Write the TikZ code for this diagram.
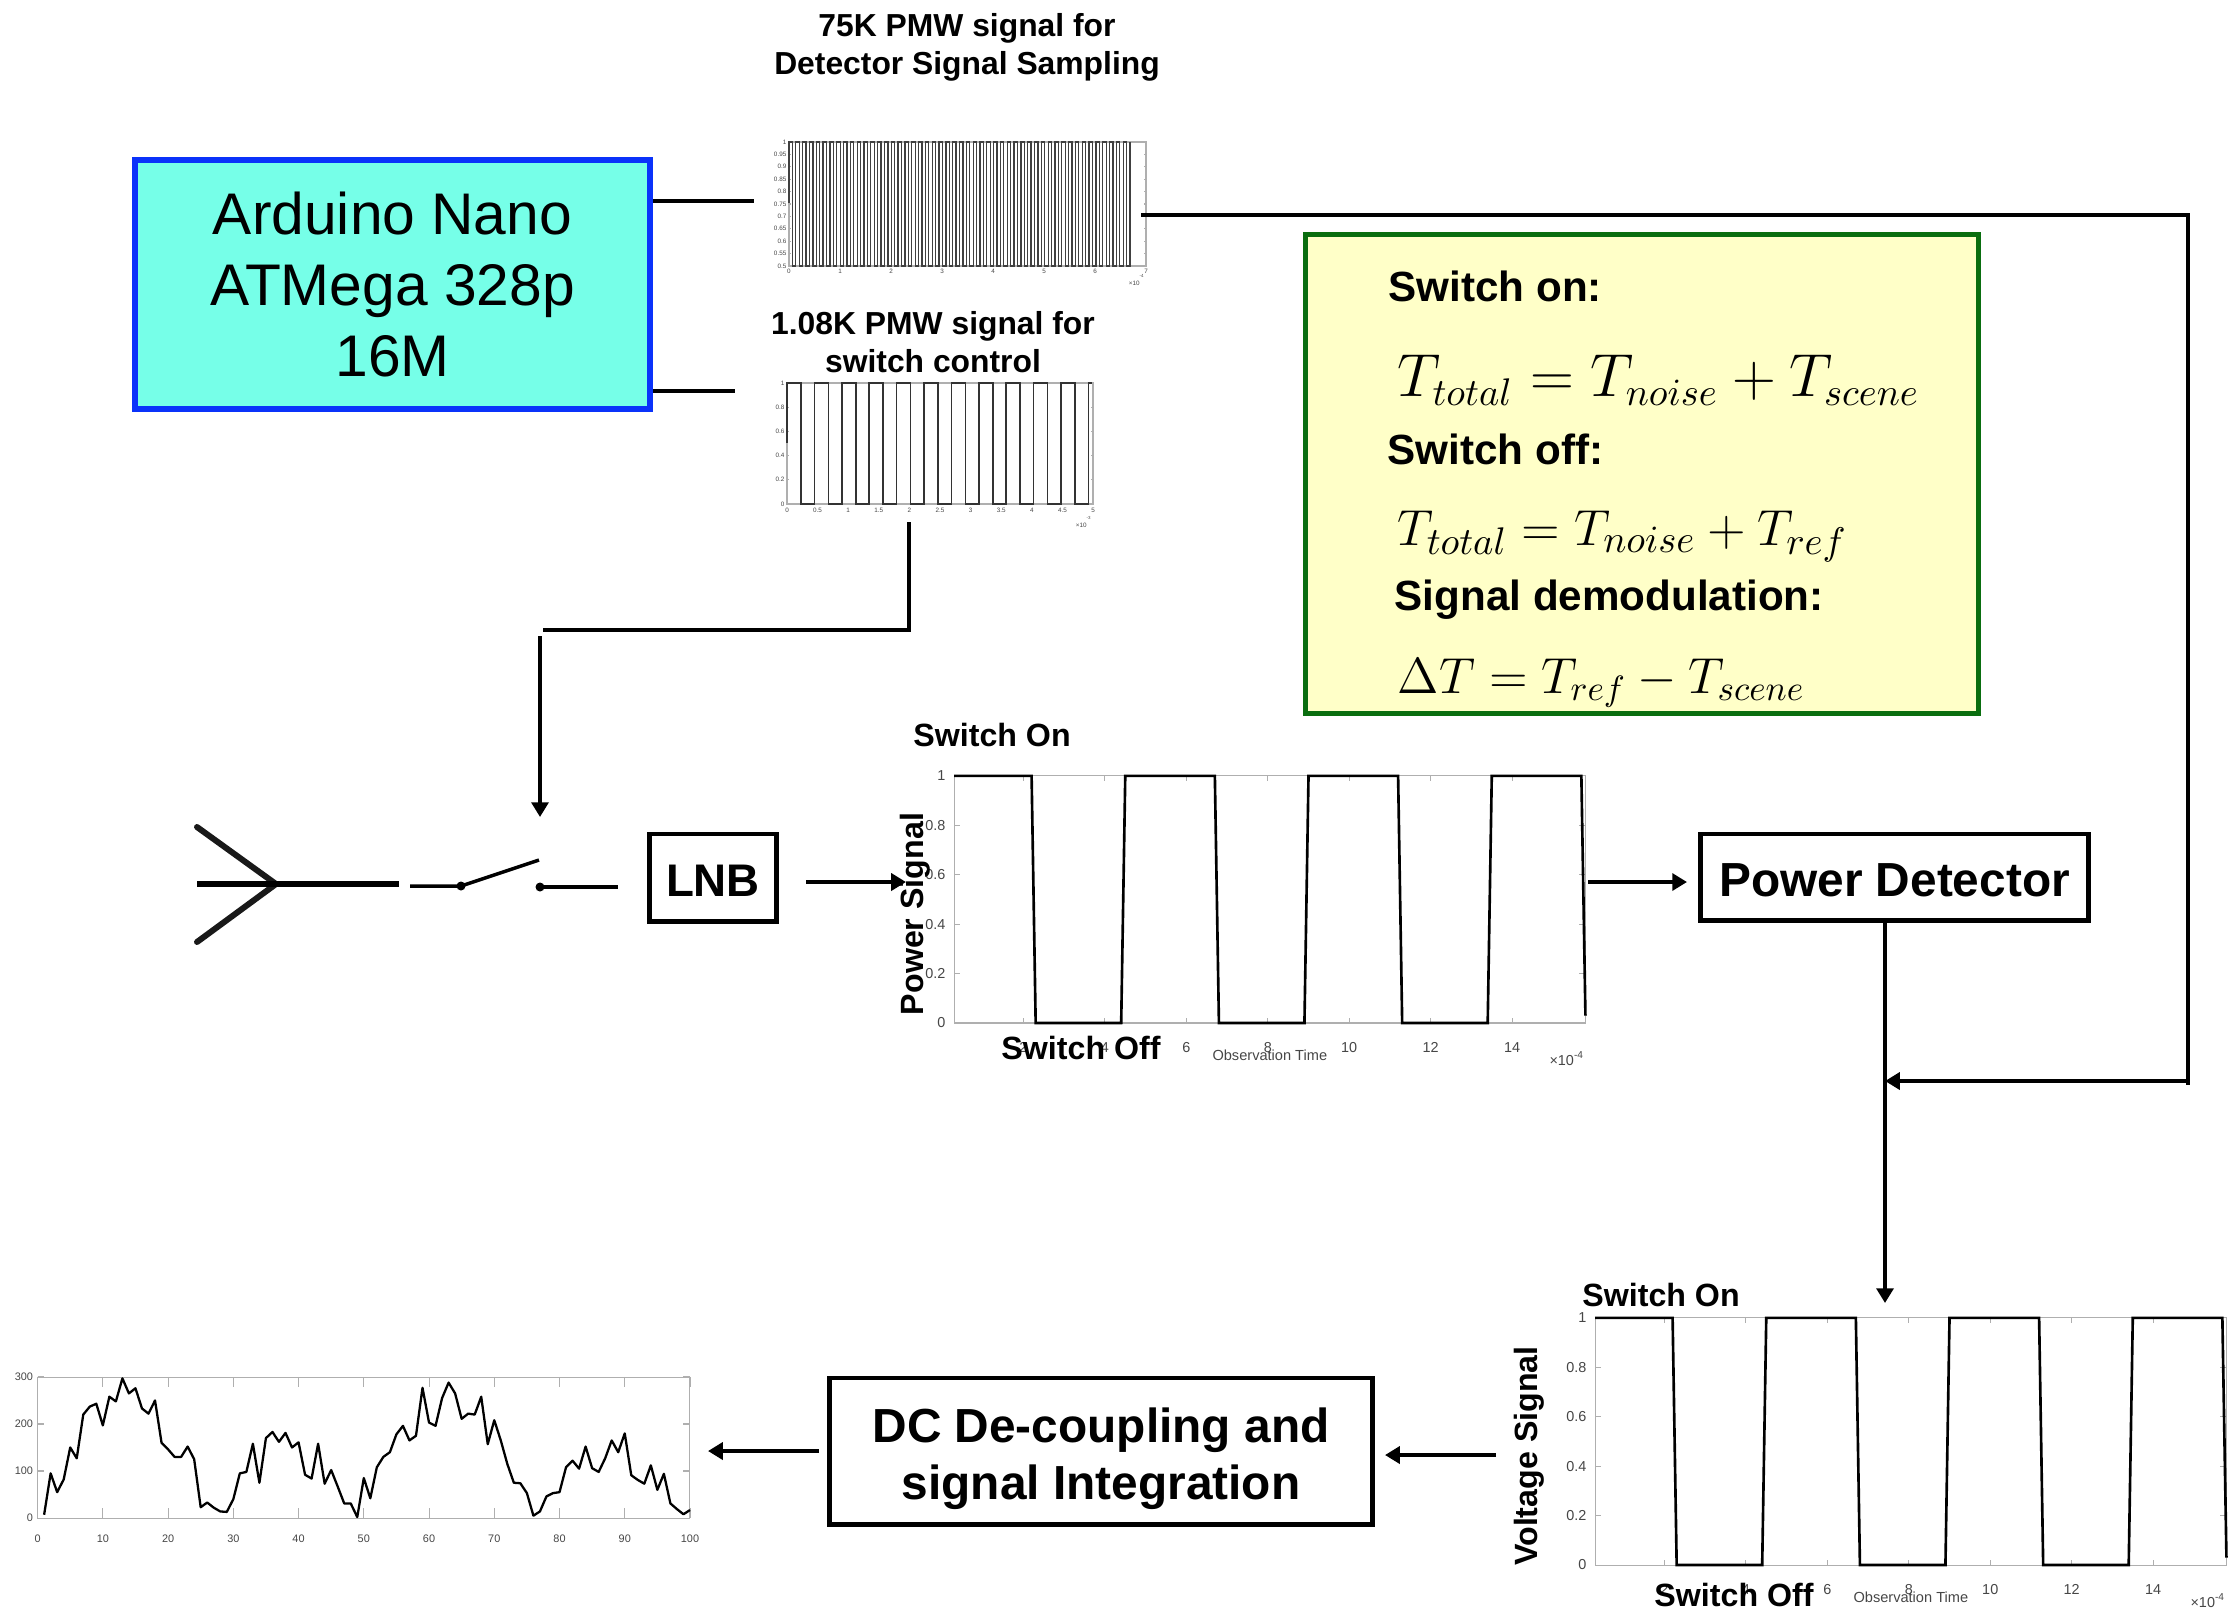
\documentclass[tikz,border=0pt]{standalone}
\usepackage{amsmath}
\usepackage{fontspec}
\setmainfont{Liberation Sans}
\usetikzlibrary{arrows.meta,calc,positioning}
\definecolor{NanoFill}{RGB}{118,255,232}
\definecolor{NanoBlue}{RGB}{10,50,250}
\definecolor{NoteFill}{RGB}{255,255,200}
\definecolor{NoteGreen}{RGB}{10,110,15}
\definecolor{AxisGray}{RGB}{175,175,175}
\definecolor{TickGray}{RGB}{70,70,70}
\tikzset{
  blockbox/.style={draw=black, line width=1.4pt, fill=white, align=center, font=\fontsize{13.6}{16.2}\selectfont\bfseries, inner sep=0pt},
  wire/.style={line width=1.4pt},
  wirearrow/.style={line width=1.4pt, -{Triangle[length=4.2pt,width=4.8pt]}},
  capt/.style={font=\fontsize{9.05}{10.8}\selectfont\bfseries, align=center, inner sep=0pt},
  state/.style={font=\fontsize{9.15}{11}\selectfont\bfseries, inner sep=0pt},
  notehead/.style={font=\fontsize{12}{14}\selectfont\bfseries, anchor=west, inner sep=0pt},
  noteeq/.style={anchor=base west, inner sep=0pt},
  frame/.style={draw=AxisGray, line width=0.3pt},
  ticklab/.style={text=TickGray, inner sep=0pt, font=\fontsize{4.1}{4.5}\selectfont},
  tinylab/.style={text=TickGray, inner sep=0pt, font=\fontsize{1.8}{2}\selectfont},
  trace/.style={line width=0.75pt, line join=miter},
}
% axes and square wave shared by the power and voltage plots
\newcommand{\SwitchPlot}[3]{
  \begin{scope}[shift={(#1,#2)},x=0.407cm,y=2.47cm]
    \draw[frame] (0.3,0) rectangle (15.8,1);
    \foreach \t in {2,4,...,14} {
      \draw[frame] (\t,0) -- (\t,0.02) (\t,1) -- (\t,0.98);
      \node[ticklab] (#3x\t) at (\t,-0.1) {\t};
    }
    \foreach \v in {0,0.2,0.4,0.6,0.8,1} {
      \draw[frame] (0.3,\v) -- (0.45,\v) (15.8,\v) -- (15.65,\v);
      \node[ticklab,anchor=east] (#3y\v) at (0.1,\v) {\v};
    }
    \draw[trace] (0.3,1) -- (2.2,1) -- (2.3,0) -- (4.4,0) -- (4.5,1) -- (6.7,1) -- (6.8,0) -- (8.9,0)
      -- (9.0,1) -- (11.2,1) -- (11.3,0) -- (13.4,0) -- (13.5,1) -- (15.7,1) -- (15.8,0.03);
    \node[ticklab,font=\fontsize{4.15}{5}\selectfont] (#3time) at (8.05,-0.13) {Observation Time};
    \node[ticklab,anchor=east] (#3exp) at (15.8,-0.145) {×10\textsuperscript{-4}};
  \end{scope}
}

\begin{document}
\begin{tikzpicture}[x=0.01cm,y=-0.01cm]
  \useasboundingbox (0,0) rectangle (2230,1608);

  % controller and notes
  \node[draw=NanoBlue, fill=NanoFill, line width=1.7pt, inner sep=0pt, align=center,
    minimum width=5.15cm, minimum height=2.49cm, font=\fontsize{16.7}{20.2}\selectfont] (arduino) at (392.5,284.5) {Arduino Nano\\ATMega 328p\\16M};
  \node[draw=NoteGreen, fill=NoteFill, line width=1.3pt, minimum width=6.73cm, minimum height=4.79cm] (notes) at (1642,474) {};
  \node[notehead] (onhead) at (1388,286) {Switch on:};
  \node[noteeq,font=\fontsize{15.9}{18}\selectfont] (oneq) at (1397,396) {$T_{total}=T_{noise}+T_{scene}$};
  \node[notehead] (offhead) at (1387,449) {Switch off:};
  \node[noteeq,font=\fontsize{15.7}{18}\selectfont] (offeq) at (1397,545) {$T_{total}=T_{noise}+T_{ref}$};
  \node[notehead] (demodhead) at (1394,600) {Signal demodulation:};
  \node[noteeq,font=\fontsize{14.7}{18}\selectfont] (demodeq) at (1397,693) {$\Delta T=T_{ref}-T_{scene}$};

  % sampling signal
  \node[capt] (samplecapt) at (967,47) {75K PMW signal for\\Detector Signal Sampling};
  \draw[frame] (789,142) rectangle (1146,266);
  \foreach \v/\lab in {0/1,1/0.95,2/0.9,3/0.85,4/0.8,5/0.75,6/0.7,7/0.65,8/0.6,9/0.55,10/0.5} {
    \draw[frame] (789,142+12.4*\v) -- (791,142+12.4*\v) (1146,142+12.4*\v) -- (1144,142+12.4*\v);
    \node[tinylab,anchor=east] (sampley\v) at (787,142+12.4*\v) {\lab};
  }
  \foreach \t in {0,...,7} {
    \node[tinylab] (samplex\t) at (789+51*\t,271) {\t};
  }
  \node[tinylab,anchor=east] (sampleexp) at (1146,280) {×10\textsuperscript{-4}};
  \draw[line width=0.36pt, black!75] (789,203) -- (789,142) foreach \n in {1,...,50} { -- ++(3.41,0) -- ++(0,124) -- ++(3.41,0) -- ++(0,-124) };

  % switch control signal
  \node[capt] (switchcapt) at (933,342) {1.08K PMW signal for\\switch control};
  \draw[frame] (787,383) rectangle (1093,504);
  \foreach \v/\lab in {0/1,1/0.8,2/0.6,3/0.4,4/0.2,5/0} {
    \draw[frame] (787,383+24.2*\v) -- (789,383+24.2*\v) (1093,383+24.2*\v) -- (1091,383+24.2*\v);
    \node[tinylab,anchor=east] (switchy\v) at (785,383+24.2*\v) {\lab};
  }
  \foreach \t/\lab in {0/0,1/0.5,2/1,3/1.5,4/2,5/2.5,6/3,7/3.5,8/4,9/4.5,10/5} {
    \node[tinylab] (switchx\t) at (787+30.6*\t,510) {\lab};
  }
  \node[tinylab,anchor=east] (switchexp) at (1093,522) {×10\textsuperscript{-3}};
  \draw[line width=0.5pt, black!80] (787,443) -- (787,383) foreach \n in {1,...,11} { -- ++(14,0) -- ++(0,121) -- ++(13.4,0) -- ++(0,-121) } -- ++(4,0);

  % antenna and switch
  \coordinate (tip) at (276,884);
  \draw[line width=1.7pt, black!90, line cap=round] (197,827) -- (tip) (197,942) -- (tip);
  \draw[line width=1.8pt] (197,884) -- (399,884);
  \coordinate (swleft) at (410,886);
  \coordinate (hinge) at (461,886);
  \coordinate (blade) at (539,860);
  \coordinate (contact) at (540,887);
  \coordinate (swright) at (618,887);
  \draw[line width=1pt] (swleft) -- (hinge) -- (blade);
  \draw[line width=1pt] (contact) -- (swright);
  \fill (hinge) circle (4.5);
  \fill (contact) circle (4.5);
  \node[blockbox, minimum width=1.27cm, minimum height=0.87cm, font=\fontsize{13}{15}\selectfont\bfseries] (lnb) at (713,877.5) {\rule{0pt}{10.6pt}LNB};

  % power signal
  \SwitchPlot{942}{1023}{power}
  \node[state] (poweron) at (992,735) {Switch On};
  \node[state] (poweroff) at (1081,1048) {Switch Off};
  \node[state,rotate=90] (powerlab) at (915,914) {Power Signal};
  \node[blockbox, minimum width=3.88cm, minimum height=0.86cm] (detector) at (1894.5,877) {\rule{0pt}{11.2pt}Power Detector};

  % voltage signal
  \SwitchPlot{1583}{1565}{volt}
  \node[state] (volton) at (1661,1295) {Switch On};
  \node[state] (voltoff) at (1734,1595) {Switch Off};
  \node[state,rotate=90] (voltlab) at (1529,1456) {Voltage Signal};

  % integrator and output
  \node[blockbox, minimum width=5.43cm, minimum height=1.46cm] (integrator) at (1101,1451) {\rule{0pt}{14pt}DC De-coupling and\\signal Integration};
  \draw[frame] (37.6,1377) rectangle (689.6,1518);
  \begin{scope}[shift={(37.6,1518)},x=0.0652cm,y=0.0047cm]
    \foreach \t in {0,10,...,100} {
      \draw[frame] (\t,0) -- (\t,22) (\t,300) -- (\t,278);
      \node[ticklab,font=\fontsize{3.1}{4}\selectfont] (outx\t) at (\t,-44) {\t};
    }
    \foreach \v in {0,100,200,300} {
      \draw[frame] (0,\v) -- (1,\v) (100,\v) -- (99,\v);
      \node[ticklab,anchor=east,font=\fontsize{3.1}{4}\selectfont] (outy\v) at (-0.6,\v) {\v};
    }
    \draw[line width=0.65pt, line join=round] (1,7) -- (2,95) -- (3,55) -- (4,82) -- (5,150) -- (6,127) -- (7,220) -- (8,237) -- (9,243) -- (10,197)
      -- (11,258) -- (12,248) -- (13,297) -- (14,265) -- (15,276) -- (16,233) -- (17,222) -- (18,250) -- (19,160) -- (20,146)
      -- (21,130) -- (22,130) -- (23,152) -- (24,125) -- (25,23) -- (26,33) -- (27,22) -- (28,14) -- (29,13) -- (30,40)
      -- (31,95) -- (32,98) -- (33,158) -- (34,75) -- (35,170) -- (36,183) -- (37,162) -- (38,181) -- (39,150) -- (40,161)
      -- (41,92) -- (42,84) -- (43,158) -- (44,73) -- (45,102) -- (46,67) -- (47,31) -- (48,31) -- (49,2) -- (50,85)
      -- (51,42) -- (52,108) -- (53,130) -- (54,140) -- (55,178) -- (56,196) -- (57,165) -- (58,175) -- (59,277) -- (60,203)
      -- (61,196) -- (62,255) -- (63,288) -- (64,265) -- (65,211) -- (66,222) -- (67,220) -- (68,258) -- (69,157) -- (70,208)
      -- (71,165) -- (72,115) -- (73,75) -- (74,74) -- (75,53) -- (76,5) -- (77,14) -- (78,46) -- (79,53) -- (80,55)
      -- (81,108) -- (82,122) -- (83,105) -- (84,152) -- (85,106) -- (86,98) -- (87,127) -- (88,165) -- (89,140) -- (90,180)
      -- (91,91) -- (92,81) -- (93,73) -- (94,112) -- (95,60) -- (96,94) -- (97,31) -- (98,19) -- (99,8) -- (100,17);
  \end{scope}

  % connectors
  \coordinate (samplein) at (754,201);
  \coordinate (switchin) at (735,391);
  \coordinate (sampleout) at (1141,215);
  \coordinate (topright) at (2188,215);
  \coordinate (botright) at (2188,1085);
  \coordinate (barfoot) at (2188,1081);
  \coordinate (junction) at (1885,1081);
  \coordinate (voltin) at (1885,1303);
  \coordinate (switchout) at (909,522);
  \coordinate (switchbend) at (909,630);
  \coordinate (switchend) at (543,630);
  \coordinate (ctrlstart) at (540,636);
  \coordinate (ctrlend) at (540,817);
  \coordinate (lnbout) at (806,882);
  \coordinate (powerin) at (906,882);
  \coordinate (powerout) at (1588,882);
  \coordinate (detin) at (1687,882);
  \coordinate (voltout) at (1496,1455);
  \coordinate (dcin) at (1385,1455);
  \coordinate (dcout) at (819,1451);
  \coordinate (plotin) at (708,1451);
  \draw[wire] (arduino.east |- samplein) -- (samplein);
  \draw[wire] (arduino.east |- switchin) -- (switchin);
  \draw[wire] (sampleout) -- (topright) -- (botright);
  \draw[wirearrow] (barfoot) -- (junction);
  \draw[wire] (switchout) -- (switchbend) -- (switchend);
  \draw[wirearrow] (ctrlstart) -- (ctrlend);
  \draw[wirearrow] (lnbout) -- (powerin);
  \draw[wirearrow] (powerout) -- (detin);
  \draw[wirearrow] (detector.south -| voltin) -- (voltin);
  \draw[wirearrow] (voltout) -- (dcin);
  \draw[wirearrow] (dcout) -- (plotin);
\end{tikzpicture}
\end{document}
